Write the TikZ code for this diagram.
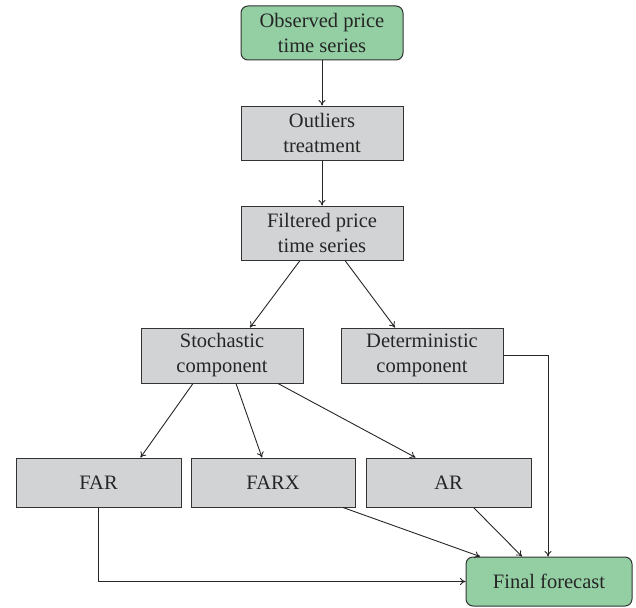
\documentclass[tikz,border=0pt]{standalone}
\usepackage{fontspec}
\setmainfont{Liberation Serif}
\usetikzlibrary{arrows.meta,calc}
\definecolor{boxgreen}{HTML}{93CFA3}
\definecolor{boxgray}{HTML}{D1D3D4}
\definecolor{edgegray}{HTML}{333333}
\tikzset{
  base/.style={draw=edgegray, line width=1pt, minimum width=162pt, minimum height=54pt,
    align=center, font=\fontsize{20.5}{25}\selectfont, inner sep=0pt, text=black!85},
  graybox/.style={base, fill=boxgray},
  greenbox/.style={base, fill=boxgreen, rounded corners=7pt},
  conn/.style={draw=black!85, line width=0.9pt, -{To[length=5.5pt,width=7pt]}}
}
\begin{document}
\begin{tikzpicture}[x=1pt,y=-1pt]
\useasboundingbox (0,0) rectangle (636,607);
\node[greenbox] (obs) at (322,33) {Observed price\\time series};
\node[graybox] (out) at (322,133) {Outliers\\treatment};
\node[graybox] (fil) at (322,233) {Filtered price\\time series};
\node[graybox, minimum height=55pt] (sto) at (222,355.5) {Stochastic\\component};
\node[graybox, minimum height=55pt] (det) at (422,355.5) {Deterministic\\component};
\node[graybox, minimum width=165pt, minimum height=49pt] (far) at (98.5,482.5) {FAR};
\node[graybox, minimum width=164pt, minimum height=49pt] (farx) at (273,482.5) {FARX};
\node[graybox, minimum width=165pt, minimum height=49pt] (ar) at (448.5,482.5) {AR};
\node[greenbox, minimum width=166pt, minimum height=49pt] (fin) at (549,581.5) {Final forecast};
\draw[conn] (obs) -- (out);
\draw[conn] (out) -- (fil);
\draw[conn] ([xshift=-22pt]fil.south) -- ([xshift=28pt]sto.north);
\draw[conn] ([xshift=23pt]fil.south) -- ([xshift=-27pt]det.north);
\draw[conn] ([xshift=-29pt]sto.south) -- ([xshift=42pt]far.north);
\draw[conn] ([xshift=14pt]sto.south) -- ([xshift=-11pt]farx.north);
\draw[conn] ([xshift=56pt]sto.south) -- ([xshift=-33pt]ar.north);
\draw[conn] ([xshift=70pt]farx.south) -- ([xshift=-69pt]fin.north);
\draw[conn] ([xshift=25pt]ar.south) -- ([xshift=-27pt]fin.north);
\draw[conn] (det.east) -| ([xshift=-1pt]fin.north);
\draw[conn] (far.south) |- (fin.west);
\end{tikzpicture}
\end{document}
